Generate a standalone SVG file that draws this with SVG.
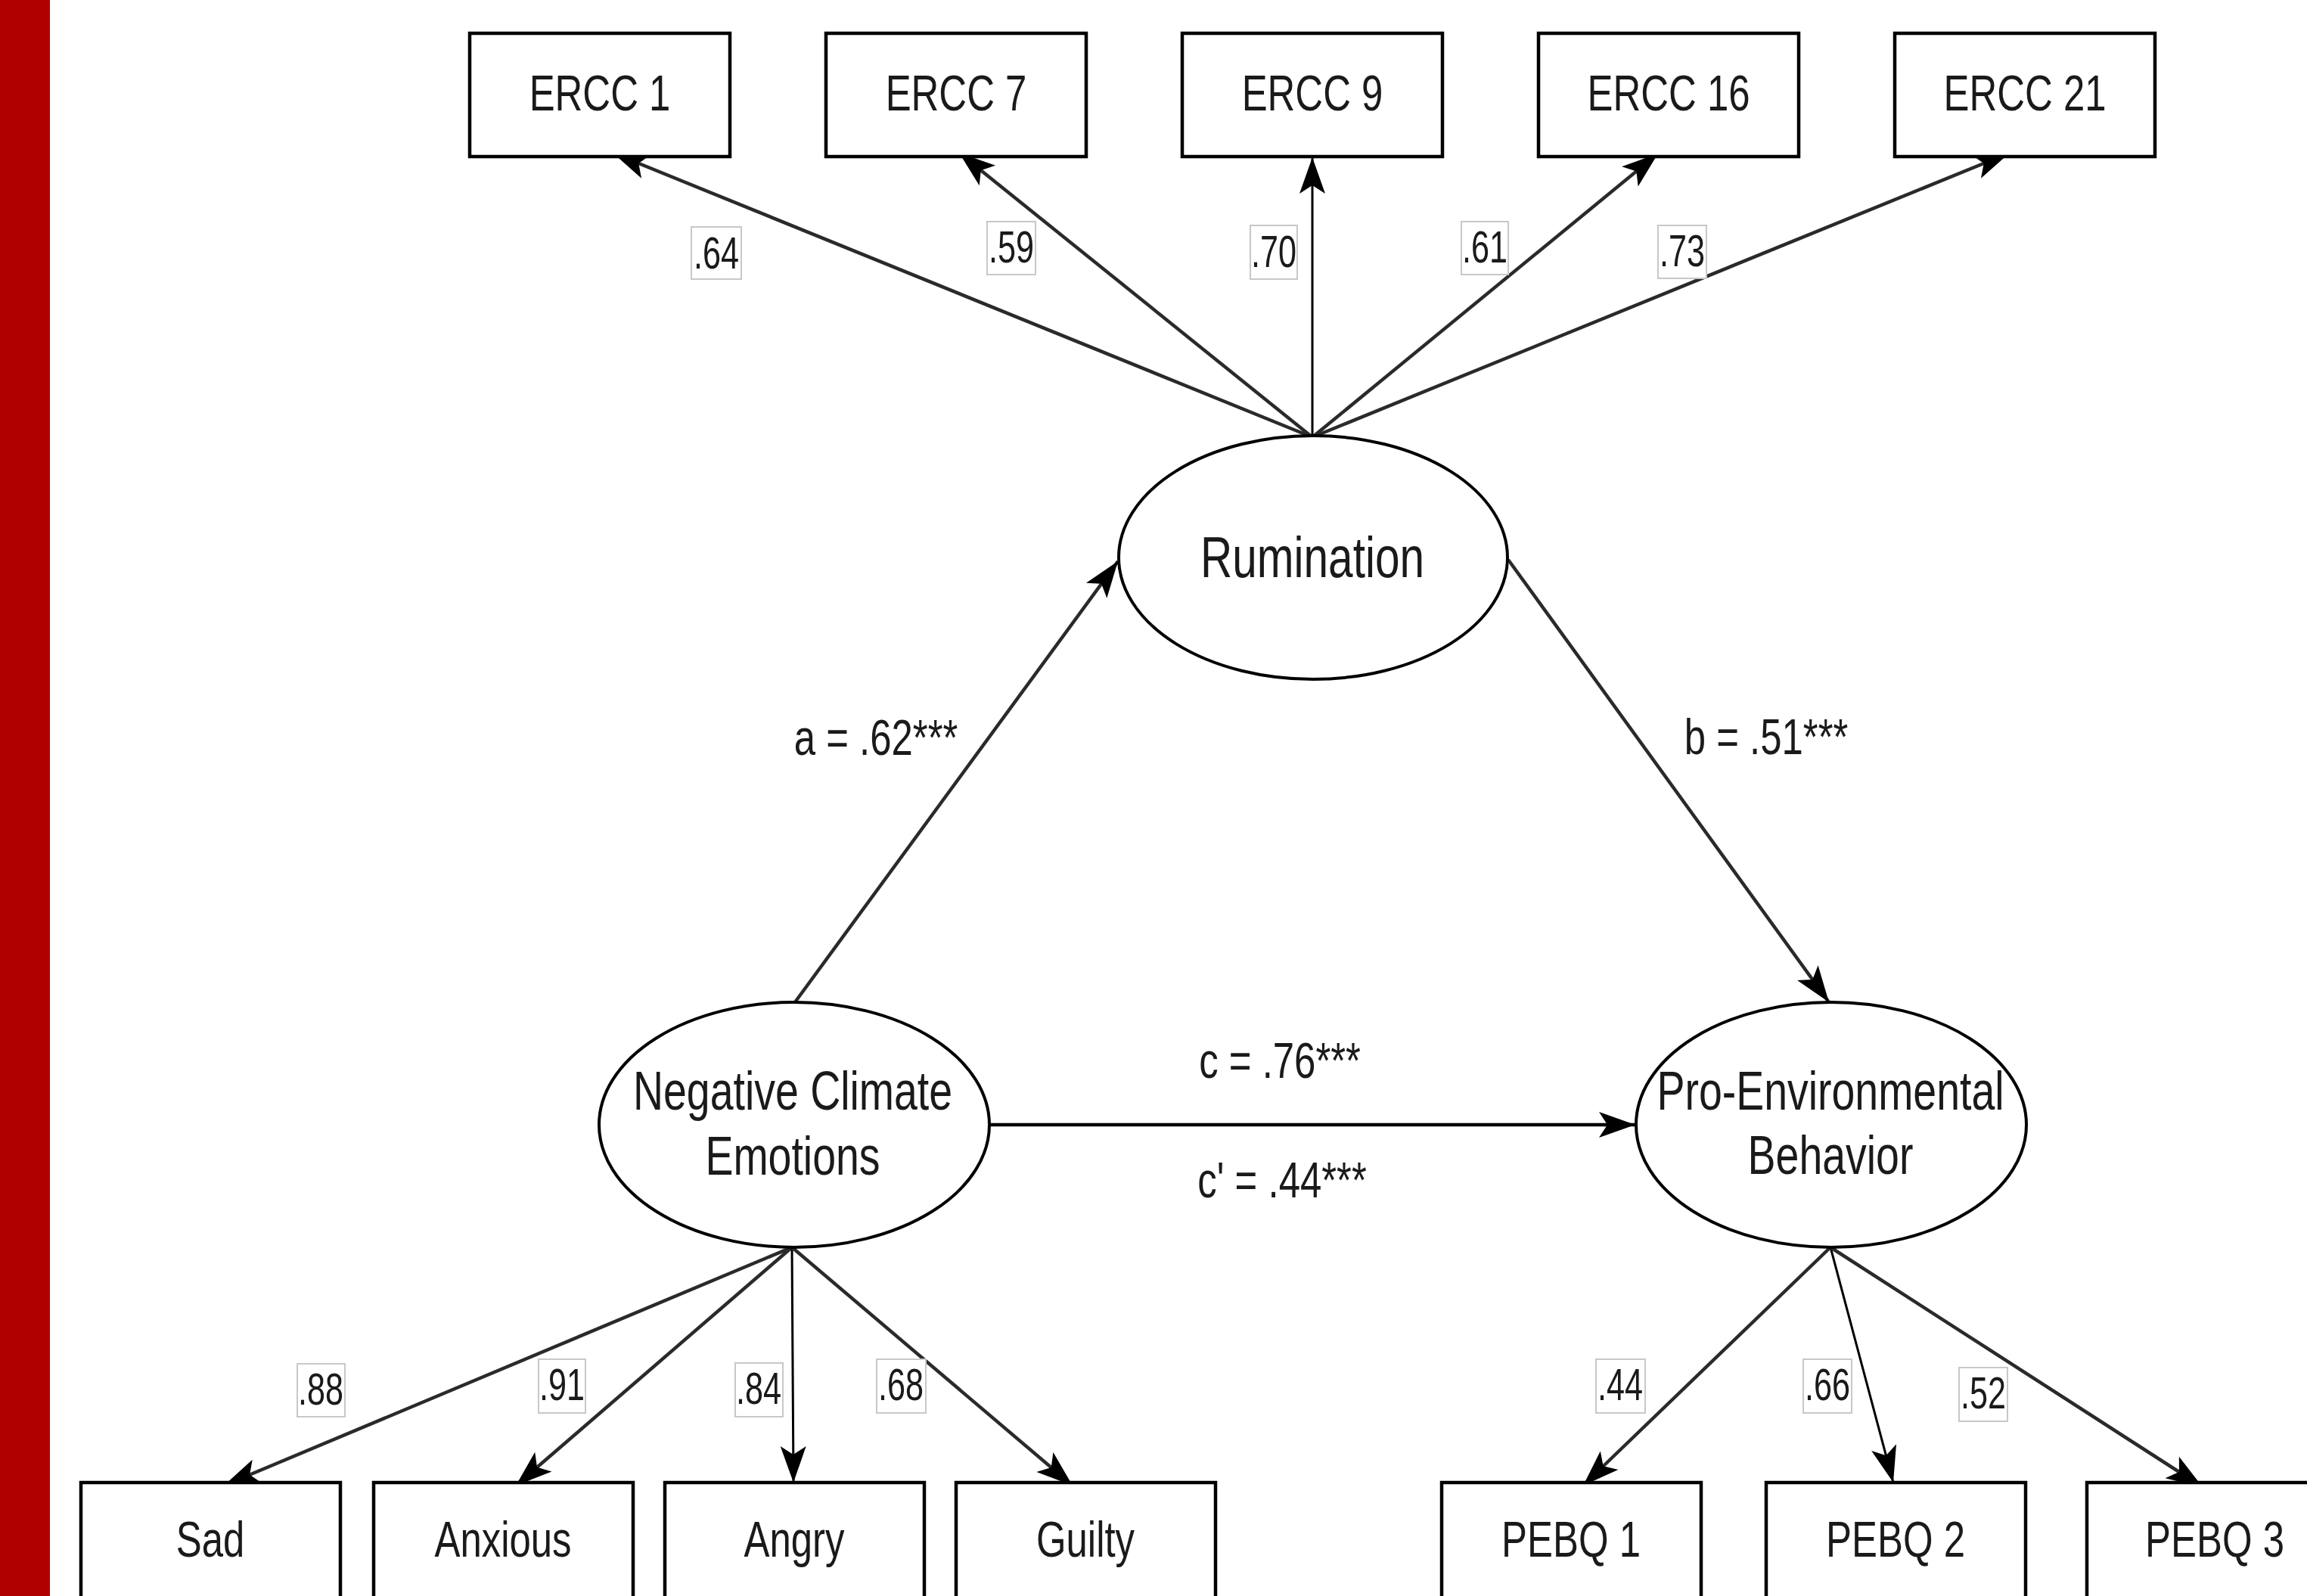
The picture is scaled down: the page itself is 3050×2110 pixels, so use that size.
<svg xmlns="http://www.w3.org/2000/svg" width="3050" height="2110" viewBox="0 0 3050 2110">
<defs>
<style>
.box{fill:#fff;stroke:#000;stroke-width:4.5}
.ell{fill:#fff;stroke:#000;stroke-width:4}
.lbl{fill:#fff;stroke:#c8c8c8;stroke-width:2}
.t{font-family:"Liberation Sans",Arial,sans-serif;fill:#1a1a1a;text-anchor:middle}
.tb{font-size:67px}
.te{font-size:72px}
.tr{font-size:76px}
.tp{font-size:67px}
.tl{font-size:60px}
.ln{stroke:#2a2a2a;stroke-width:4.5;fill:none;marker-end:url(#ah)}
.lns{stroke:#000;stroke-width:3;fill:none;marker-end:url(#ah)}
</style>
<marker id="ah" markerUnits="userSpaceOnUse" markerWidth="56" markerHeight="40" viewBox="-52 -20 56 40" refX="0" refY="0" orient="auto">
<path d="M0,0 L-48,-17 L-37,0 L-48,17 Z" fill="#000"/>
</marker>
</defs>
<rect x="0" y="0" width="3050" height="2110" fill="#fff"/>
<rect x="0" y="0" width="66" height="2110" fill="#b00000"/>

<g id="connectors">
<line class="ln" x1="1735" y1="578" x2="810" y2="202"/>
<line class="ln" x1="1735" y1="578" x2="1268" y2="202"/>
<line class="lns" x1="1735" y1="578" x2="1735" y2="208"/>
<line class="ln" x1="1735" y1="578" x2="2192" y2="203"/>
<line class="ln" x1="1735" y1="578" x2="2657" y2="202"/>
<line class="ln" x1="1051" y1="1325" x2="1478" y2="742"/>
<line class="ln" x1="1994" y1="740" x2="2418" y2="1325"/>
<line class="lns" x1="1308" y1="1487" x2="2162" y2="1487" style="stroke-width:4.5"/>
<line class="ln" x1="1047" y1="1649" x2="296" y2="1964"/>
<line class="ln" x1="1047" y1="1649" x2="682" y2="1964"/>
<line class="lns" x1="1047" y1="1649" x2="1049" y2="1960"/>
<line class="ln" x1="1047" y1="1649" x2="1418" y2="1964"/>
<line class="ln" x1="2420" y1="1649" x2="2093" y2="1964"/>
<line class="lns" x1="2420" y1="1649" x2="2503" y2="1960"/>
<line class="ln" x1="2420" y1="1649" x2="2912" y2="1966"/>
<rect class="lbl" x="914" y="300" width="66" height="69"/>
<text class="t tl" transform="translate(947,355) scale(0.72,1)">.64</text>
<rect class="lbl" x="1305" y="293" width="64" height="70"/>
<text class="t tl" transform="translate(1337,347) scale(0.72,1)">.59</text>
<rect class="lbl" x="1653" y="298" width="62" height="71"/>
<text class="t tl" transform="translate(1684,353) scale(0.72,1)">.70</text>
<rect class="lbl" x="1932" y="293" width="62" height="70"/>
<text class="t tl" transform="translate(1963,347) scale(0.72,1)">.61</text>
<rect class="lbl" x="2192" y="298" width="64" height="70"/>
<text class="t tl" transform="translate(2224,352) scale(0.72,1)">.73</text>
<rect class="lbl" x="393" y="1803" width="63" height="70"/>
<text class="t tl" transform="translate(424,1857) scale(0.72,1)">.88</text>
<rect class="lbl" x="712" y="1797" width="62" height="71"/>
<text class="t tl" transform="translate(743,1851) scale(0.72,1)">.91</text>
<rect class="lbl" x="972" y="1802" width="63" height="71"/>
<text class="t tl" transform="translate(1003,1856) scale(0.72,1)">.84</text>
<rect class="lbl" x="1159" y="1797" width="65" height="71"/>
<text class="t tl" transform="translate(1191,1851) scale(0.72,1)">.68</text>
<rect class="lbl" x="2110" y="1797" width="65" height="71"/>
<text class="t tl" transform="translate(2142,1851) scale(0.72,1)">.44</text>
<rect class="lbl" x="2384" y="1797" width="64" height="71"/>
<text class="t tl" transform="translate(2416,1851) scale(0.72,1)">.66</text>
<rect class="lbl" x="2590" y="1808" width="64" height="71"/>
<text class="t tl" transform="translate(2622,1862) scale(0.72,1)">.52</text>
<text class="t tp" transform="translate(1158,998) scale(0.76,1)">a = .62***</text>
<text class="t tp" transform="translate(2335,997) scale(0.76,1)">b = .51***</text>
<text class="t tp" transform="translate(1692,1425) scale(0.76,1)">c = .76***</text>
<text class="t tp" transform="translate(1695,1583) scale(0.76,1)">c' = .44***</text>
</g>

<g id="ercc1"><rect class="box" x="621" y="44" width="344" height="163"/><text class="t tb" transform="translate(793,146) scale(0.76,1)">ERCC 1</text></g>
<g id="ercc7"><rect class="box" x="1092" y="44" width="344" height="163"/><text class="t tb" transform="translate(1264,146) scale(0.76,1)">ERCC 7</text></g>
<g id="ercc9"><rect class="box" x="1563" y="44" width="344" height="163"/><text class="t tb" transform="translate(1735,146) scale(0.76,1)">ERCC 9</text></g>
<g id="ercc16"><rect class="box" x="2034" y="44" width="344" height="163"/><text class="t tb" transform="translate(2206,146) scale(0.76,1)">ERCC 16</text></g>
<g id="ercc21"><rect class="box" x="2505" y="44" width="344" height="163"/><text class="t tb" transform="translate(2677,146) scale(0.76,1)">ERCC 21</text></g>

<g id="rumination"><ellipse class="ell" cx="1736" cy="737" rx="257" ry="161"/><text class="t tr" transform="translate(1735,763) scale(0.77,1)">Rumination</text></g>
<g id="nce"><ellipse class="ell" cx="1050" cy="1487" rx="258" ry="162"/><text class="t te" transform="translate(1048,1467) scale(0.77,1)">Negative Climate</text><text class="t te" transform="translate(1048,1553) scale(0.77,1)">Emotions</text></g>
<g id="peb"><ellipse class="ell" cx="2421" cy="1487" rx="258" ry="162"/><text class="t te" transform="translate(2420,1467) scale(0.77,1)">Pro-Environmental</text><text class="t te" transform="translate(2420,1552) scale(0.77,1)">Behavior</text></g>

<g id="sad"><rect class="box" x="107" y="1960" width="343" height="163"/><text class="t tb" transform="translate(278,2058) scale(0.76,1)">Sad</text></g>
<g id="anxious"><rect class="box" x="494" y="1960" width="343" height="163"/><text class="t tb" transform="translate(665,2058) scale(0.76,1)">Anxious</text></g>
<g id="angry"><rect class="box" x="879" y="1960" width="343" height="163"/><text class="t tb" transform="translate(1050,2058) scale(0.76,1)">Angry</text></g>
<g id="guilty"><rect class="box" x="1264" y="1960" width="343" height="163"/><text class="t tb" transform="translate(1435,2058) scale(0.76,1)">Guilty</text></g>
<g id="pebq1"><rect class="box" x="1906" y="1960" width="343" height="163"/><text class="t tb" transform="translate(2077,2058) scale(0.76,1)">PEBQ 1</text></g>
<g id="pebq2"><rect class="box" x="2335" y="1960" width="343" height="163"/><text class="t tb" transform="translate(2506,2058) scale(0.76,1)">PEBQ 2</text></g>
<g id="pebq3"><rect class="box" x="2759" y="1960" width="343" height="163"/><text class="t tb" transform="translate(2928,2058) scale(0.76,1)">PEBQ 3</text></g>
</svg>
